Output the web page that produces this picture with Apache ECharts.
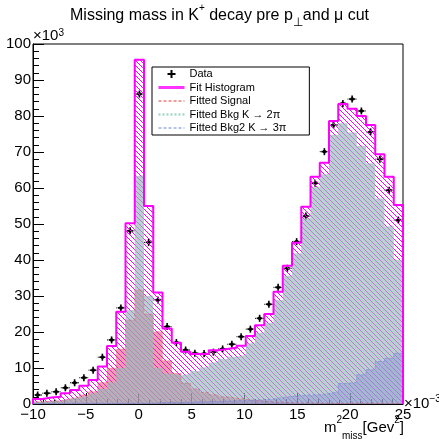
<!DOCTYPE html>
<html>
<head>
<meta charset="utf-8">
<script src="https://cdn.jsdelivr.net/npm/echarts/dist/echarts.min.js"></script>
<style>
  html, body { margin: 0; padding: 0; background: #fff; }
  #main { width: 439px; height: 439px; }
</style>
</head>
<body>
<div id="main"></div>
<script>
// histogram binning (x in units of 1e-3 GeV^2)
var xMin = -10, xMax = 25, binWidth = 0.875;

// values in units of 1e3 entries, 40 bins
var dataValues = [2.5, 3.0, 3.4, 4.5, 5.9, 7.3, 9.4, 13.0, 17.8, 26.7,
  48.1, 86.1, 44.9, 28.9, 21.5, 17.1, 15.0, 14.1, 14.0, 14.4,
  15.3, 16.6, 18.7, 20.8, 23.8, 27.7, 32.4, 37.7, 45.1, 52.2,
  61.3, 70.1, 77.5, 83.5, 84.7, 81.4, 75.6, 68.0, 59.4, 51.1];
var fitValues = [1.4, 1.8, 2.0, 3.0, 3.9, 5.1, 6.7, 10.4, 16.1, 25.6,
  50.2, 95.6, 55.0, 31.0, 21.0, 17.0, 14.5, 13.9, 13.9, 14.9,
  15.3, 15.6, 16.2, 18.9, 21.9, 25.0, 31.2, 38.4, 44.8, 54.8,
  63.1, 67.0, 78.6, 83.3, 82.0, 80.0, 77.5, 69.4, 63.1, 55.3];
var signalValues = [0.6, 0.8, 0.9, 1.4, 1.9, 2.6, 3.5, 6.0, 10.0, 15.3,
  23.3, 31.7, 25.0, 20.1, 12.0, 8.5, 5.8, 4.2, 3.2, 2.6,
  2.0, 1.6, 1.3, 1.0, 0.8, 0.6, 0.5, 0.4, 0.3, 0.3,
  0.2, 0.2, 0.2, 0.2, 0.2, 0.2, 0.2, 0.2, 0.2, 0.2];
var bkgValues = [0.6, 0.8, 0.9, 1.4, 1.8, 2.3, 3.0, 4.2, 6.0, 10.0,
  26.1, 63.3, 30.0, 10.0, 8.5, 8.0, 8.3, 9.2, 10.2, 11.5,
  12.5, 13.1, 13.6, 16.9, 19.8, 22.6, 28.9, 35.6, 41.9, 51.6,
  60.2, 63.8, 74.7, 78.0, 75.4, 71.7, 66.9, 57.1, 49.4, 40.0];
var bkg2Values = [0.2, 0.2, 0.2, 0.2, 0.2, 0.2, 0.2, 0.2, 0.2, 0.2,
  0.2, 0.2, 0.2, 0.4, 0.4, 0.4, 0.5, 0.6, 0.6, 0.7,
  0.8, 0.9, 1.0, 1.1, 1.2, 1.4, 1.8, 2.1, 2.4, 2.5,
  2.6, 2.9, 3.3, 5.7, 6.0, 8.1, 9.5, 11.8, 12.7, 14.1];

var FONT = 'Liberation Sans, Arial, Helvetica, sans-serif';

// step outline data: bin edges with their heights, closed down to 0
function stepData(vals) {
  var d = [[xMin, 0]];
  for (var i = 0; i < vals.length; i++) {
    d.push([xMin + i * binWidth, vals[i]]);
  }
  d.push([xMax, vals[vals.length - 1]]);
  d.push([xMax, 0]);
  return d;
}

function hatch(color, size, width) {
  var c = document.createElement('canvas');
  c.width = c.height = size;
  var g = c.getContext('2d');
  g.strokeStyle = color;
  g.lineWidth = width;
  g.beginPath();
  g.moveTo(-1, -1); g.lineTo(size + 1, size + 1);
  g.moveTo(size - 1, -1); g.lineTo(size + 1, 1);
  g.moveTo(-1, size - 1); g.lineTo(1, size + 1);
  g.stroke();
  return { image: c, repeat: 'repeat' };
}

var pointData = dataValues.map(function (v, i) {
  return [xMin + (i + 0.5) * binWidth, v];
});

function renderPoint(params, api) {
  var x = api.value(0), y = api.value(1);
  var c = api.coord([x, y]);
  var l = api.coord([x - binWidth / 2, y]);
  var r = api.coord([x + binWidth / 2, y]);
  return {
    type: 'group',
    children: [
      { type: 'line', shape: { x1: l[0], y1: c[1], x2: r[0], y2: c[1] }, style: { stroke: '#000', lineWidth: 1, lineDash: [1, 1] } },
      { type: 'line', shape: { x1: c[0] - 3, y1: c[1], x2: c[0] + 3, y2: c[1] }, style: { stroke: '#000', lineWidth: 1.6 } },
      { type: 'line', shape: { x1: c[0], y1: c[1] - 3.5, x2: c[0], y2: c[1] + 3.5 }, style: { stroke: '#000', lineWidth: 1.6 } },
      { type: 'rect', shape: { x: c[0] - 1.5, y: c[1] - 1.5, width: 3, height: 3 }, style: { fill: '#000' } }
    ]
  };
}

function richSet(size) {
  return {
    t: { fontFamily: FONT, fontSize: size, fontWeight: 'normal', color: '#000', lineHeight: 26 },
    sup: { fontFamily: FONT, fontSize: 10, fontWeight: 'normal', color: '#000', verticalAlign: 'top', lineHeight: 8 },
    sub: { fontFamily: FONT, fontSize: 10, fontWeight: 'normal', color: '#000', verticalAlign: 'bottom', lineHeight: 8 },
    perp: { fontFamily: FONT, fontSize: 12, fontWeight: 'normal', color: '#000', verticalAlign: 'bottom', lineHeight: 6 }
  };
}

var hideSym = { opacity: 0 };

var myChart = echarts.init(document.getElementById('main'), null, { renderer: 'canvas' });

var option = {
  animation: false,
  backgroundColor: '#fff',
  title: [{
    text: '{t|Missing mass in K}{sup|+}{t| decay pre p}{perp|⊥}{t|and μ cut}',
    left: 'center',
    top: 3,
    padding: 0,
    textStyle: { fontWeight: 'normal', rich: richSet(16) }
  }, {
    text: '{t|m}{sup|2}{sub|miss}{t|[Gev}{sup|2}{t|]}',
    right: 35,
    top: 415,
    padding: 0,
    textStyle: { fontWeight: 'normal', rich: richSet(15) }
  }],
  legend: {
    left: 152,
    top: 67,
    orient: 'vertical',
    itemWidth: 26,
    itemHeight: 8,
    itemGap: 1.5,
    padding: [1, 23, 1, 5],
    borderColor: '#000',
    borderWidth: 1,
    backgroundColor: '#fff',
    textStyle: { fontFamily: FONT, fontSize: 11, color: '#000', lineHeight: 12 },
    data: [
      { name: 'Data', icon: 'path://M3,0 L5,0 L5,3 L8,3 L8,5 L5,5 L5,8 L3,8 L3,5 L0,5 L0,3 L3,3 Z', itemStyle: { color: '#000' } },
      { name: 'Fit Histogram', itemStyle: hideSym, lineStyle: { color: '#ff33ff', width: 3, type: 'solid', opacity: 1 } },
      { name: 'Fitted Signal', itemStyle: hideSym, lineStyle: { color: '#e03a3a', width: 1, type: [3, 2], opacity: 1 } },
      { name: 'Fitted Bkg K → 2π', itemStyle: hideSym, lineStyle: { color: '#a6d8c6', width: 2.5, type: [2, 2], opacity: 1 } },
      { name: 'Fitted Bkg2 K → 3π', itemStyle: hideSym, lineStyle: { color: '#6a86d8', width: 1, type: [3, 2], opacity: 1 } }
    ]
  },
  grid: {
    left: 33, right: 36, top: 44, bottom: 35,
    show: true, borderColor: '#000', borderWidth: 1,
    outerBoundsMode: 'none'
  },
  xAxis: {
    type: 'value',
    min: xMin, max: xMax, interval: 5,
    name: '{a|×10}{s|−3}',
    nameLocation: 'end',
    nameGap: 1,
    nameMoveOverlap: false,
    nameTextStyle: {
      align: 'left', verticalAlign: 'middle',
      rich: {
        a: { fontFamily: FONT, fontSize: 15, color: '#000', lineHeight: 20 },
        s: { fontFamily: FONT, fontSize: 10, color: '#000', verticalAlign: 'top', lineHeight: 10 }
      }
    },
    axisLine: { onZero: false, lineStyle: { color: '#000', width: 1 } },
    axisTick: { inside: true, length: 11, lineStyle: { color: '#000' } },
    minorTick: { show: true, splitNumber: 5, length: 5, lineStyle: { color: '#000' } },
    splitLine: { show: false },
    axisLabel: {
      margin: 3, color: '#000', fontFamily: FONT, fontSize: 15,
      showMinLabel: true, showMaxLabel: true,
      formatter: function (v) { return v < 0 ? '\u2212' + (-v) : String(v); }
    }
  },
  yAxis: {
    type: 'value',
    min: 0, max: 100, interval: 10,
    name: '{a|×10}{s|3}',
    nameLocation: 'end',
    nameGap: 0,
    nameMoveOverlap: false,
    nameTextStyle: {
      align: 'left', verticalAlign: 'bottom',
      rich: {
        a: { fontFamily: FONT, fontSize: 15, color: '#000', lineHeight: 16 },
        s: { fontFamily: FONT, fontSize: 10, color: '#000', verticalAlign: 'top', lineHeight: 10 }
      }
    },
    axisLine: { show: true, onZero: false, lineStyle: { color: '#000', width: 1 } },
    axisTick: { show: true, inside: true, length: 11, lineStyle: { color: '#000' } },
    minorTick: { show: true, splitNumber: 5, length: 6, lineStyle: { color: '#000' } },
    splitLine: { show: false },
    axisLabel: {
      margin: 2, color: '#000', fontFamily: FONT, fontSize: 15,
      showMinLabel: true, showMaxLabel: true
    }
  },
  series: [{
    // hatched body of the fit histogram, underneath the components
    name: 'fitHatch',
    type: 'line',
    step: 'end',
    symbol: 'none',
    data: stepData(fitValues),
    lineStyle: { width: 0, opacity: 0 },
    areaStyle: { color: hatch('#ff00ff', 5, 1), opacity: 1 }
  }, {
    name: 'Fitted Signal',
    type: 'line',
    step: 'end',
    symbol: 'none',
    data: stepData(signalValues),
    itemStyle: { color: '#e03a3a' },
    lineStyle: { color: '#e03a3a', width: 1, type: [3, 2], opacity: 0.35 },
    areaStyle: { color: 'rgba(228,60,110,0.5)', opacity: 1 }
  }, {
    name: 'Fitted Bkg K → 2π',
    type: 'line',
    step: 'end',
    symbol: 'none',
    data: stepData(bkgValues),
    itemStyle: { color: '#a6d8c6' },
    lineStyle: { width: 0, opacity: 0 },
    areaStyle: { color: 'rgba(150,185,185,0.66)', opacity: 1 }
  }, {
    name: 'Fitted Bkg2 K → 3π',
    type: 'line',
    step: 'end',
    symbol: 'none',
    data: stepData(bkg2Values),
    itemStyle: { color: '#6a86d8' },
    lineStyle: { color: '#6a86d8', width: 1, type: [3, 2], opacity: 0.6 },
    areaStyle: { color: 'rgba(120,135,215,0.35)', opacity: 1 }
  }, {
    name: 'Fit Histogram',
    type: 'line',
    step: 'end',
    symbol: 'none',
    data: stepData(fitValues),
    itemStyle: { color: '#ff00ff' },
    lineStyle: { color: '#ff00ff', width: 2 }
  }, {
    name: 'Data',
    type: 'custom',
    renderItem: renderPoint,
    encode: { x: 0, y: 1 },
    data: pointData,
    itemStyle: { color: '#000' }
  }]
};

myChart.setOption(option);
</script>
</body>
</html>
